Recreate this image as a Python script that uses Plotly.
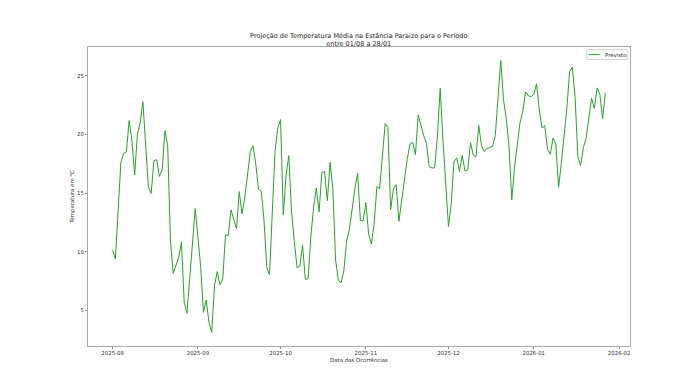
import pandas as pd
import plotly.graph_objects as go

start_date = "2025-08-01"
n_days = 180
temps = [
    10.16, 9.39, 13.5, 17.62, 18.39, 18.53, 21.18, 19.47, 16.55, 20.04,
    20.98, 22.79, 19.1, 15.49, 14.98, 17.77, 17.85, 16.43, 16.98, 20.32,
    19.05, 10.95, 8.17, 8.85, 9.53, 10.81, 5.70, 4.76, 7.7, 10.7,
    13.7, 11.2, 8.68, 4.85, 5.9, 4.0, 3.14, 7.12, 8.31, 7.2,
    7.69, 11.46, 11.38, 13.57, 12.8, 11.95, 15.13, 13.23, 14.59, 16.35,
    18.53, 19.05, 17.49, 15.32, 15.15, 12.66, 8.68, 8.06, 13.4, 18.6,
    20.55, 21.26, 13.17, 16.49, 18.19, 13.4, 10.9, 8.65, 8.78, 10.56,
    7.66, 7.69, 11.3, 13.8, 15.44, 13.4, 16.75, 16.85, 14.36, 17.62,
    15.35, 9.3, 7.57, 7.37, 8.4, 10.92, 11.9, 13.8, 15.36, 16.7,
    12.66, 12.66, 14.2, 11.52, 10.67, 12.4, 15.56, 15.36, 18.5, 20.92,
    20.6, 13.6, 15.36, 15.72, 12.6, 14.36, 16.3, 17.85, 19.16, 19.33,
    18.28, 21.67, 20.8, 19.9, 19.26, 17.26, 17.15, 17.15, 19.9, 23.93,
    19.5, 16.06, 12.17, 14.08, 17.71, 18.0, 16.85, 18.22, 16.9, 16.98,
    19.3, 18.24, 18.1, 20.78, 19.05, 18.53, 18.82, 18.89, 18.97, 19.9,
    22.95, 26.29, 22.98, 21.31, 19.0, 14.42, 17.2, 19.1, 21.0, 21.95,
    23.63, 23.3, 23.22, 23.42, 24.32, 22.1, 20.55, 20.75, 18.72, 18.31,
    19.7, 19.19, 15.49, 17.55, 19.9, 22.2, 25.35, 25.72, 23.2, 18.12,
    17.34, 18.87, 19.68, 21.5, 23.1, 22.22, 23.96, 23.4, 21.35, 23.53,
]
series_name = "Previsto"
title_text = "Projeção de Temperatura Média na Estância Paraizo para o Período<br>entre 01/08 a 28/01"
x_title = "Data das Ocorrências"
y_title = "Temperatura em °C"

dates = pd.date_range(start_date, periods=n_days, freq="D")

# matplotlib-like 5% margins
xpad = (dates[-1] - dates[0]) * 0.05
x_range = [dates[0] - xpad, dates[-1] + xpad]
ymin, ymax = min(temps), max(temps)
ypad = (ymax - ymin) * 0.05
y_range = [ymin - ypad, ymax + ypad]

FONT = "DejaVu Sans"
LINE_COLOR = "#2ca02c"
W, H = 700, 389
ML, MR, MT, MB = 87.5, 70, 46.7, 42.8
PW, PH = W - ML - MR, H - MT - MB

fig = go.Figure()
fig.add_trace(go.Scatter(
    x=dates, y=temps, mode="lines", name=series_name,
    line=dict(color=LINE_COLOR, width=1),
))

# matplotlib-style compact legend (upper right)
def px_x(p):
    return (p - ML) / PW

def px_y(p):
    return 1 - (p - MT) / PH

lx0, lx1, ly0, ly1 = 586.7, 627.3, 49.3, 59.3
fig.add_shape(type="rect", xref="paper", yref="paper",
              x0=px_x(lx0), x1=px_x(lx1), y0=px_y(ly1), y1=px_y(ly0),
              line=dict(color="#d0d0d0", width=1), fillcolor="rgba(255,255,255,0.8)")
fig.add_shape(type="line", xref="paper", yref="paper",
              x0=px_x(588.5), x1=px_x(599.5), y0=px_y(54.3), y1=px_y(54.3),
              line=dict(color=LINE_COLOR, width=1))
fig.add_annotation(text=series_name, xref="paper", yref="paper",
                   x=px_x(603), y=px_y(54.3), xanchor="left", yanchor="middle",
                   showarrow=False, font=dict(family=FONT, size=5.4, color="#333"))

fig.update_layout(
    width=W, height=H,
    margin=dict(l=ML, r=MR, t=MT, b=MB),
    paper_bgcolor="white", plot_bgcolor="white",
    font=dict(family=FONT, size=5.4, color="#333"),
    title=dict(
        text=title_text, x=358.75 / W, xanchor="center",
        y=1 - 37.5 / H, yanchor="bottom", yref="container",
        font=dict(family=FONT, size=6.5, color="#222"),
    ),
    showlegend=False,
)
fig.update_xaxes(
    range=x_range, type="date", automargin=False,
    tick0="2025-08-01", dtick="M1", tickformat="%Y-%m",
    ticks="outside", ticklen=2, tickwidth=1, tickcolor="#888",
    showgrid=False, zeroline=False,
    showline=True, linecolor="#aaaaaa", linewidth=1, mirror=True,
    tickfont=dict(family=FONT, size=5.4, color="#333"),
    title=dict(text=x_title, font=dict(family=FONT, size=5.4, color="#333"), standoff=2),
)
fig.update_yaxes(
    range=y_range, tick0=0, dtick=5, automargin=False,
    ticks="outside", ticklen=2, tickwidth=1, tickcolor="#888",
    showgrid=False, zeroline=False,
    showline=True, linecolor="#aaaaaa", linewidth=1, mirror=True,
    tickfont=dict(family=FONT, size=5.4, color="#333"),
    title=dict(text=y_title, font=dict(family=FONT, size=5.4, color="#333"), standoff=2),
)

fig.write_html("out.html", config={"displayModeBar": False},
               post_script="document.body.style.margin='0';")
